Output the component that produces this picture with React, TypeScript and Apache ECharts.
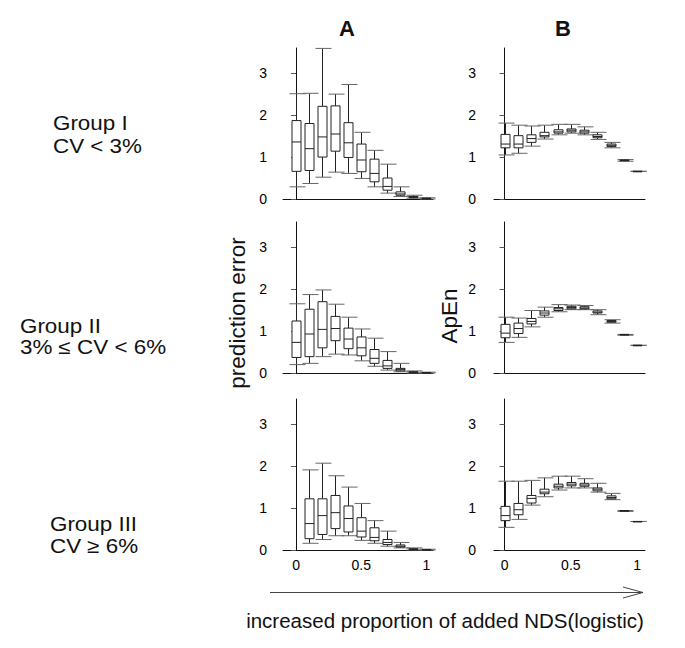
import React, { useEffect, useRef } from "react";
import * as echarts from "echarts";

// x positions (proportion of added NDS)
const XS = [0, 0.1, 0.2, 0.3, 0.4, 0.5, 0.6, 0.7, 0.8, 0.9, 1.0];
const XS_III_A = [0.1, 0.2, 0.3, 0.4, 0.5, 0.6, 0.7, 0.8, 0.9, 1.0];

// each entry: [low whisker, Q1, median, Q3, high whisker]
const groupI_A = [
  [0.29, 0.66, 1.36, 1.87, 2.51],
  [0.37, 0.68, 1.2, 1.8, 2.52],
  [0.52, 1.0, 1.48, 2.21, 3.59],
  [0.64, 1.14, 1.55, 2.22, 2.5],
  [0.61, 0.99, 1.34, 1.82, 2.73],
  [0.49, 0.65, 0.93, 1.31, 1.59],
  [0.29, 0.41, 0.61, 0.95, 1.16],
  [0.14, 0.21, 0.3, 0.5, 0.83],
  [0.06, 0.09, 0.12, 0.17, 0.29],
  [0.02, 0.03, 0.04, 0.06, 0.09],
  [0.0, 0.01, 0.01, 0.02, 0.03],
];
const groupI_B = [
  [1.05, 1.22, 1.31, 1.54, 1.81],
  [1.09, 1.22, 1.31, 1.51, 1.76],
  [1.26, 1.35, 1.44, 1.53, 1.74],
  [1.43, 1.48, 1.51, 1.59, 1.76],
  [1.53, 1.57, 1.6, 1.65, 1.78],
  [1.57, 1.6, 1.64, 1.67, 1.78],
  [1.53, 1.57, 1.6, 1.64, 1.72],
  [1.42, 1.46, 1.49, 1.53, 1.59],
  [1.22, 1.25, 1.28, 1.31, 1.35],
  [0.9, 0.91, 0.92, 0.93, 0.94],
  [0.66, 0.66, 0.66, 0.66, 0.66],
];
const groupII_A = [
  [0.2, 0.37, 0.73, 1.24, 1.65],
  [0.23, 0.39, 0.93, 1.52, 1.87],
  [0.39, 0.6, 1.04, 1.7, 1.98],
  [0.45, 0.77, 1.06, 1.35, 1.64],
  [0.43, 0.58, 0.81, 1.07, 1.33],
  [0.29, 0.41, 0.6, 0.86, 1.05],
  [0.16, 0.23, 0.35, 0.56, 0.83],
  [0.07, 0.11, 0.17, 0.3, 0.51],
  [0.03, 0.05, 0.08, 0.11, 0.23],
  [0.0, 0.01, 0.02, 0.03, 0.05],
  [0.0, 0.0, 0.01, 0.01, 0.02],
];
const groupII_B = [
  [0.73, 0.84, 0.95, 1.16, 1.33],
  [0.85, 0.94, 1.06, 1.19, 1.31],
  [1.1, 1.17, 1.23, 1.3, 1.49],
  [1.33, 1.38, 1.43, 1.48, 1.57],
  [1.46, 1.49, 1.53, 1.56, 1.63],
  [1.51, 1.53, 1.56, 1.59, 1.62],
  [1.51, 1.53, 1.55, 1.58, 1.61],
  [1.39, 1.43, 1.45, 1.48, 1.51],
  [1.19, 1.21, 1.23, 1.25, 1.27],
  [0.9, 0.91, 0.91, 0.92, 0.92],
  [0.66, 0.66, 0.66, 0.66, 0.66],
];
const groupIII_A = [
  [0.16, 0.27, 0.63, 1.22, 1.91],
  [0.25, 0.37, 0.82, 1.22, 2.07],
  [0.34, 0.51, 0.89, 1.3, 1.77],
  [0.34, 0.43, 0.75, 1.05, 1.5],
  [0.23, 0.31, 0.45, 0.77, 1.11],
  [0.16, 0.22, 0.3, 0.53, 0.7],
  [0.09, 0.13, 0.18, 0.25, 0.45],
  [0.05, 0.07, 0.09, 0.12, 0.18],
  [0.0, 0.01, 0.02, 0.03, 0.05],
  [0.0, 0.0, 0.01, 0.01, 0.02],
];
const groupIII_B = [
  [0.54, 0.7, 0.82, 1.04, 1.64],
  [0.73, 0.84, 0.96, 1.11, 1.64],
  [1.07, 1.12, 1.23, 1.3, 1.66],
  [1.27, 1.34, 1.38, 1.45, 1.72],
  [1.43, 1.48, 1.52, 1.57, 1.76],
  [1.48, 1.53, 1.57, 1.61, 1.76],
  [1.48, 1.52, 1.55, 1.59, 1.7],
  [1.38, 1.41, 1.45, 1.48, 1.59],
  [1.2, 1.22, 1.25, 1.29, 1.35],
  [0.92, 0.93, 0.93, 0.94, 0.94],
  [0.68, 0.68, 0.68, 0.68, 0.68],
];

const Y_TICKS = [0, 1, 2, 3];
const X_TICKS = [0, 0.5, 1];
const COLUMN_TITLES = ["A", "B"];
const ROW_LABELS = [
  ["Group I", "CV < 3%"],
  ["Group II", "3% \u2264 CV < 6%"],
  ["Group III", "CV \u2265 6%"],
];
const Y_NAMES = ["prediction error", "ApEn"];
const X_NAME = "increased proportion of added NDS(logistic)";

const FONT = "'Liberation Sans', Arial, Helvetica, sans-serif";

const panels = [
  { xs: XS, data: groupI_A, col: 0, row: 0 },
  { xs: XS, data: groupI_B, col: 1, row: 0 },
  { xs: XS, data: groupII_A, col: 0, row: 1 },
  { xs: XS, data: groupII_B, col: 1, row: 1 },
  { xs: XS_III_A, data: groupIII_A, col: 0, row: 2 },
  { xs: XS, data: groupIII_B, col: 1, row: 2 },
];

const GRID_LEFT = [283, 494];
const GRID_WIDTH = [150, 151];
const GRID_TOP = [48, 222, 399];
const GRID_H = 151;
const X_MIN = [-0.1, -0.08];
const X_MAX = [1.05, 1.06];
const LABEL_MARGIN = [16, 18];

function renderBox(params: any, api: any) {
  const x = api.value(0);
  const lo = api.coord([x, api.value(1)]);
  const q1 = api.coord([x, api.value(2)]);
  const md = api.coord([x, api.value(3)]);
  const q3 = api.coord([x, api.value(4)]);
  const hi = api.coord([x, api.value(5)]);
  const cx = Math.round(lo[0]) + 0.5;
  const hw = 4.5;
  const cw = 8;
  const dark = "#222";
  const cap = "#666";
  return {
    type: "group",
    children: [
      { type: "line", shape: { x1: cx, y1: hi[1], x2: cx, y2: q3[1] }, style: { stroke: dark, lineWidth: 1 } },
      { type: "line", shape: { x1: cx, y1: q1[1], x2: cx, y2: lo[1] }, style: { stroke: dark, lineWidth: 1 } },
      { type: "line", shape: { x1: cx - cw + 1, y1: hi[1], x2: cx + cw + 1, y2: hi[1] }, style: { stroke: cap, lineWidth: 1 } },
      { type: "line", shape: { x1: cx - cw + 1, y1: lo[1], x2: cx + cw + 1, y2: lo[1] }, style: { stroke: cap, lineWidth: 1 } },
      {
        type: "rect",
        shape: { x: cx - hw, y: q3[1], width: hw * 2, height: Math.max(q1[1] - q3[1], 0.5) },
        style: { fill: "#fff", stroke: dark, lineWidth: 1 },
      },
      { type: "line", shape: { x1: cx - hw, y1: md[1], x2: cx + hw, y2: md[1] }, style: { stroke: dark, lineWidth: 1 } },
    ],
  };
}

export default function App() {
  const ref = useRef<HTMLDivElement>(null);
  useEffect(() => {
    if (!ref.current) return;
    const chart = echarts.init(ref.current, null, { renderer: "svg" });
    const grids: any[] = [];
    const xAxes: any[] = [];
    const yAxes: any[] = [];
    const series: any[] = [];
    panels.forEach((p, i) => {
      grids.push({
        left: GRID_LEFT[p.col],
        top: GRID_TOP[p.row],
        width: GRID_WIDTH[p.col],
        height: GRID_H,
        containLabel: false,
        outerBoundsMode: "none",
      });
      const bottom = p.row === 2;
      xAxes.push({
        type: "value",
        gridIndex: i,
        min: X_MIN[p.col],
        max: X_MAX[p.col],
        splitLine: { show: false },
        axisLine: { show: true, onZero: false, lineStyle: { color: "#111", width: 1 } },
        axisTick: { show: false },
        axisLabel: {
          show: bottom,
          customValues: X_TICKS,
          formatter: (v: number) => String(v),
          color: "#000",
          fontSize: 14,
          fontFamily: FONT,
          margin: 8,
        },
      });
      yAxes.push({
        type: "value",
        gridIndex: i,
        min: 0,
        max: 3.6,
        splitLine: { show: false },
        axisLine: { show: true, lineStyle: { color: "#111", width: 1 } },
        axisTick: { show: true, length: 5, customValues: Y_TICKS, lineStyle: { color: "#555" } },
        axisLabel: {
          customValues: Y_TICKS,
          color: "#000",
          fontSize: 14,
          fontFamily: FONT,
          margin: LABEL_MARGIN[p.col],
        },
      });
      series.push({
        type: "custom",
        xAxisIndex: i,
        yAxisIndex: i,
        renderItem: renderBox,
        encode: { x: 0, y: [1, 2, 3, 4, 5] },
        data: p.xs.map((x, k) => [x, ...p.data[k]]),
        clip: false,
      });
    });

    const txt = (text: string, x: number, y: number, size: number, opts: any = {}) => ({
      type: "text",
      x,
      y,
      rotation: opts.rotation || 0,
      scaleX: opts.scaleX || 1,
      style: {
        text,
        fill: "#111",
        font: `${opts.bold ? "bold " : ""}${size}px ${FONT}`,
        textAlign: opts.align || "center",
        align: opts.align || "center",
        textVerticalAlign: "middle",
        verticalAlign: "middle",
      },
    });

    const graphic: any[] = [
      txt(COLUMN_TITLES[0], 347, 28, 22, { bold: true }),
      txt(COLUMN_TITLES[1], 563, 28, 22, { bold: true }),
      txt(ROW_LABELS[0][0], 53, 123, 20, { align: "left", scaleX: 1.12 }),
      txt(ROW_LABELS[0][1], 53, 146, 20, { align: "left", scaleX: 1.12 }),
      txt(ROW_LABELS[1][0], 20, 326, 20, { align: "left", scaleX: 1.12 }),
      txt(ROW_LABELS[1][1], 20, 347, 20, { align: "left", scaleX: 1.12 }),
      txt(ROW_LABELS[2][0], 50, 524, 20, { align: "left", scaleX: 1.12 }),
      txt(ROW_LABELS[2][1], 50, 546, 20, { align: "left", scaleX: 1.12 }),
      txt(Y_NAMES[0], 237, 313, 22.5, { rotation: Math.PI / 2 }),
      txt(Y_NAMES[1], 449, 316, 22.5, { rotation: Math.PI / 2 }),
      txt(X_NAME, 445, 620, 20.5),
      {
        type: "line",
        shape: { x1: 270, y1: 592.5, x2: 643, y2: 592.5 },
        style: { stroke: "#444", lineWidth: 1 },
      },
      {
        type: "polyline",
        shape: { points: [[623, 587], [643, 592.5], [623, 598]] },
        style: { stroke: "#444", lineWidth: 1, fill: null },
      },
    ];

    chart.setOption({
      animation: false,
      backgroundColor: "#fff",
      grid: grids,
      xAxis: xAxes,
      yAxis: yAxes,
      series,
      graphic,
    });
    return () => chart.dispose();
  }, []);
  return (
    <div
      ref={ref}
      style={{ position: "fixed", left: 0, top: 0, width: 685, height: 648, background: "#fff" }}
    />
  );
}
